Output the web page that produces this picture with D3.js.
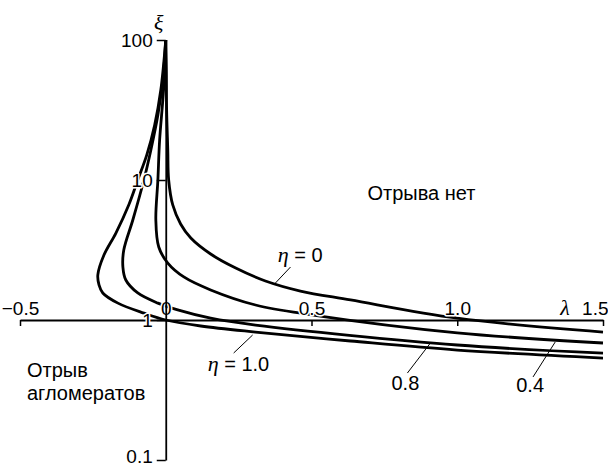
<!DOCTYPE html>
<html>
<head>
<meta charset="utf-8">
<script src="https://d3js.org/d3.v7.min.js"></script>
<style>
    body{margin:0;background:#fff;}
    svg{display:block;}
    text{font-family:"Liberation Sans",Arial,sans-serif;fill:#000;}
    .greek{font-family:"Liberation Serif","Times New Roman",serif;font-style:italic;}
    .halo{paint-order:stroke;stroke:#fff;stroke-width:3px;stroke-linejoin:round;}
</style>
</head>
<body>
<div id="chart"></div>
<script>

// axis ticks
var lambdaTicks = [-0.5, 0, 0.5, 1.0, 1.5]
var lambdaTickLabels = ["\u22120.5", "0", "0.5", "1.0", "1.5"]
var xiTicks = [0.1, 1, 10, 100]
var xiTickLabels = ["0.1", "1", "10", "100"]

// curves (top to bottom)
var etaValues = [0, 0.4, 0.8, 1.0]

var lambdaEta0 = [0, 0.002, 0.003, 0.007, 0.010, 0.024, 0.051, 0.086, 0.154, 0.240, 0.342, 0.462, 0.634, 1.0, 1.5]
var xiEta0     = [100, 61.1, 31.6, 16.4, 10, 6.63, 4.85, 3.85, 2.96, 2.35, 1.90, 1.61, 1.39, 1.03, 0.82]

var lambdaEta04 = [0, -0.003, -0.010, -0.021, -0.027, -0.034, -0.024, 0.007, 0.062, 0.154, 0.308, 0.5, 1.0, 1.5]
var xiEta04     = [100, 61.1, 37.3, 19.3, 10, 5.18, 3.32, 2.55, 2.03, 1.64, 1.28, 1.09, 0.81, 0.685]

var lambdaEta08 = [0, -0.010, -0.027, -0.051, -0.075, -0.113, -0.144, -0.147, -0.137, -0.096, -0.027, 0.041, 0.154, 0.308, 1.0, 1.5]
var xiEta08     = [100, 51.8, 29.1, 16.4, 10, 5.18, 3.16, 2.39, 1.93, 1.56, 1.32, 1.18, 1.03, 0.92, 0.663, 0.58]

var lambdaEta10 = [0, -0.017, -0.038, -0.065, -0.096, -0.127, -0.171, -0.212, -0.233, -0.229, -0.216, -0.164, -0.075, 0, 0.12, 0.308, 0.634, 1.0, 1.5]
var xiEta10     = [100, 43.9, 24.7, 15.1, 10, 6.63, 4.18, 2.91, 2.10, 1.78, 1.56, 1.32, 1.12, 1.0, 0.906, 0.82, 0.708, 0.61, 0.535]

var curves = [
    {eta: etaValues[0], lam: lambdaEta0, xi: xiEta0},
    {eta: etaValues[1], lam: lambdaEta04, xi: xiEta04},
    {eta: etaValues[2], lam: lambdaEta08, xi: xiEta08},
    {eta: etaValues[3], lam: lambdaEta10, xi: xiEta10}
]

var width = 608
var height = 469

var xScale = d3.scaleLinear().domain([-0.5, 1.5]).range([20, 603])
var yScale = d3.scaleLog().domain([0.1, 100]).range([460, 40])

var svg = d3.select("#chart")
    .append("svg")
    .attr("width", width)
    .attr("height", height)

svg.append("rect").attr("width", width).attr("height", height).attr("fill", "#fff")

// curves
var line = d3.line()
    .x(function(d){ return xScale(d[0]) })
    .y(function(d){ return yScale(d[1]) })
    .curve(d3.curveCatmullRom.alpha(0.5))

svg.selectAll(".curve")
    .data(curves)
    .enter()
    .append("path")
    .attr("class", "curve")
    .attr("d", function(c){
        return line(c.lam.map(function(l, i){ return [l, c.xi[i]] }))
    })
    .attr("fill", "none")
    .attr("stroke", "#000")
    .attr("stroke-width", 2.8)

// x axis at xi = 1
var xAxis = d3.axisBottom(xScale)
    .tickValues(lambdaTicks)
    .tickFormat(function(d, i){ return lambdaTickLabels[i] })
    .tickSize(6)
    .tickSizeOuter(0)

var gx = svg.append("g")
    .attr("transform", "translate(0," + yScale(1) + ")")
    .call(xAxis)
gx.select(".domain").attr("stroke-width", 1.8)
gx.selectAll(".tick line").attr("stroke-width", 1.5)
gx.selectAll(".tick text")
    .attr("y", -5)
    .attr("dy", 0)
    .attr("class", "halo")
    .style("font-size", "19px")
    .style("font-family", "'Liberation Sans',Arial,sans-serif")
gx.selectAll(".tick").filter(function(d){ return d === 1.5 })
    .select("text").attr("text-anchor", "end").attr("x", 5)
gx.selectAll(".tick").filter(function(d){ return d === 0 })
    .select("line").remove()

// y axis at lambda = 0
var yAxis = d3.axisLeft(yScale)
    .tickValues(xiTicks)
    .tickFormat(function(d, i){ return xiTickLabels[i] })
    .tickSize(9)
    .tickSizeOuter(0)
    .tickPadding(4)

var gy = svg.append("g")
    .attr("transform", "translate(" + xScale(0) + ",0)")
    .call(yAxis)
gy.select(".domain").attr("stroke-width", 1.8)
gy.selectAll(".tick line").attr("stroke-width", 1.5)
gy.selectAll(".tick text")
    .attr("class", "halo")
    .style("font-size", "19px")
    .style("font-family", "'Liberation Sans',Arial,sans-serif")
// lowest label sits on the bottom edge, pull it up a touch
gy.selectAll(".tick").filter(function(d){ return d === 0.1 })
    .select("text").attr("dy", "0.12em")

// axis names
svg.append("text")
    .attr("class", "greek")
    .attr("x", xScale(0) - 7)
    .attr("y", 30)
    .attr("text-anchor", "middle")
    .style("font-size", "22px")
    .text("\u03be")

svg.append("text")
    .attr("class", "greek")
    .attr("x", xScale(1.37))
    .attr("y", yScale(1) - 5)
    .attr("text-anchor", "middle")
    .style("font-size", "22px")
    .text("\u03bb")

// curve labels with leader lines
var leaders = [
    {from: [0.428, 2.39], to: [0.370, 1.78]},
    {from: [0.298, 0.781], to: [0.233, 0.581]},
    {from: [0.908, 0.685], to: [0.829, 0.418]},
    {from: [1.336, 0.696], to: [1.260, 0.392]}
]
svg.selectAll(".leader")
    .data(leaders)
    .enter()
    .append("line")
    .attr("class", "leader")
    .attr("x1", function(d){ return xScale(d.from[0]) })
    .attr("y1", function(d){ return yScale(d.from[1]) })
    .attr("x2", function(d){ return xScale(d.to[0]) })
    .attr("y2", function(d){ return yScale(d.to[1]) })
    .attr("stroke", "#000")
    .attr("stroke-width", 1)

function etaLabel(lam, xi, value){
    var t = svg.append("text")
        .attr("x", xScale(lam))
        .attr("y", yScale(xi))
        .style("font-size", "20px")
    t.append("tspan").attr("class", "greek").style("font-size", "22px").text("\u03b7")
    t.append("tspan").text(" = " + value)
}
etaLabel(0.384, 2.60, "0")
etaLabel(0.144, 0.432, "1.0")

svg.append("text")
    .attr("x", xScale(0.822))
    .attr("y", yScale(0.316))
    .attr("text-anchor", "middle")
    .style("font-size", "20px")
    .text("0.8")

svg.append("text")
    .attr("x", xScale(1.25))
    .attr("y", yScale(0.306))
    .attr("text-anchor", "middle")
    .style("font-size", "20px")
    .text("0.4")

// region labels
svg.append("text")
    .attr("x", xScale(0.692))
    .attr("y", yScale(7.2))
    .style("font-size", "20px")
    .text("Отрыва  нет")

var sep = svg.append("text")
    .attr("x", 27)
    .attr("y", 377)
    .style("font-size", "20px")
sep.append("tspan").attr("x", 27).text("Отрыв")
sep.append("tspan").attr("x", 27).attr("dy", 23).text("агломератов")

</script>
</body>
</html>
